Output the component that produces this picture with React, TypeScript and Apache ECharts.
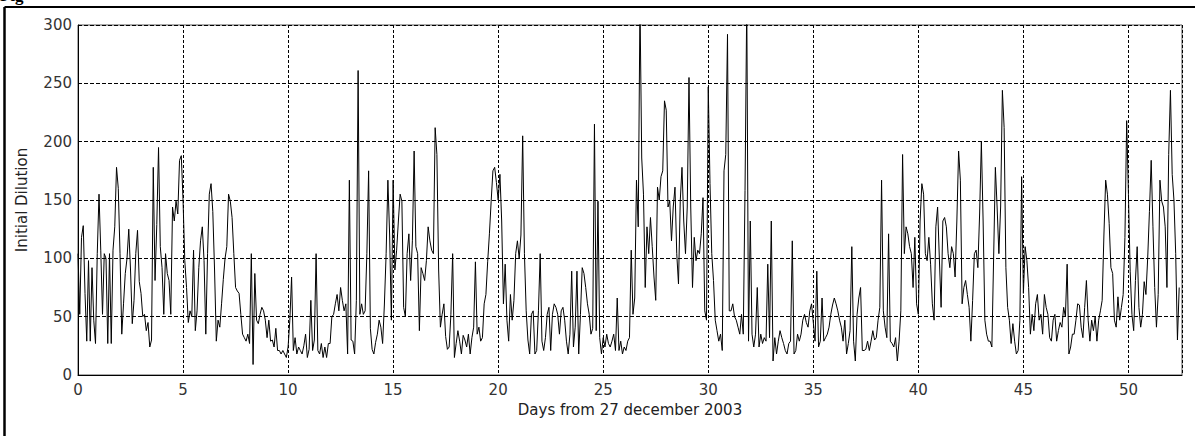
import React, { useEffect, useRef } from "react";
import * as echarts from "echarts";

// Sampling interval of the series (hours)
const STEP_HOURS = 2;

// X axis extent (days) and tick labels
const X_MAX = 52.55;
const xTickLabels = [0, 5, 10, 15, 20, 25, 30, 35, 40, 45, 50];
const yTickLabels = [0, 50, 100, 150, 200, 250, 300];

const xTitle = "Days from 27 december 2003";
const yTitle = "Initial Dilution";
const captionText = "Fig";

// Initial dilution, one row per day, 2-hourly samples
const dilution: number[] = [
  104, 52, 118, 128, 70, 29, 98, 29, 92, 47, 27, 104, // day 0
  155, 107, 52, 104, 100, 27, 104, 27, 107, 127, 178, 160, // 1
  104, 35, 61, 87, 100, 125, 90, 44, 64, 104, 124, 80, // 2
  70, 50, 52, 38, 45, 24, 30, 178, 81, 129, 195, 110, // 3
  92, 52, 104, 87, 81, 52, 144, 132, 149, 138, 184, 188, // 4
  150, 98, 75, 45, 55, 50, 107, 38, 55, 92, 115, 127, // 5
  98, 35, 104, 155, 164, 140, 90, 29, 47, 41, 61, 82, // 6
  100, 110, 155, 149, 135, 104, 75, 72, 70, 52, 35, 32, // 7
  29, 35, 27, 104, 9, 87, 47, 44, 52, 58, 55, 47, // 8
  32, 47, 29, 30, 24, 40, 21, 21, 18, 21, 18, 15, // 9
  24, 47, 84, 21, 32, 18, 24, 21, 18, 25, 35, 15, // 10
  22, 64, 21, 30, 104, 21, 18, 27, 15, 24, 15, 27, // 11
  27, 50, 52, 61, 69, 55, 75, 64, 55, 61, 18, 167, // 12
  30, 29, 18, 64, 261, 52, 61, 52, 55, 104, 175, 40, // 13
  22, 18, 28, 35, 47, 41, 27, 60, 104, 167, 120, 47, // 14
  167, 90, 107, 132, 155, 149, 58, 50, 104, 121, 81, 115, // 15
  192, 110, 104, 38, 92, 87, 81, 98, 127, 115, 107, 104, // 16
  212, 189, 90, 41, 52, 61, 33, 22, 24, 52, 104, 15, // 17
  27, 38, 29, 18, 34, 30, 24, 35, 18, 32, 41, 97, // 18
  35, 41, 29, 32, 61, 69, 97, 121, 149, 175, 178, 165, // 19
  150, 172, 132, 61, 95, 47, 29, 69, 47, 64, 104, 115, // 20
  100, 120, 205, 104, 55, 30, 18, 52, 55, 18, 21, 55, // 21
  104, 29, 21, 32, 52, 58, 21, 52, 61, 58, 52, 35, // 22
  55, 58, 47, 29, 18, 35, 89, 24, 41, 89, 18, 52, // 23
  92, 87, 75, 61, 52, 35, 40, 215, 38, 149, 32, 18, // 24
  32, 24, 35, 27, 24, 29, 35, 21, 66, 21, 29, 18, // 25
  24, 21, 29, 32, 107, 52, 66, 167, 127, 320, 186, 155, // 26
  75, 127, 104, 135, 110, 84, 64, 161, 150, 170, 175, 235, // 27
  227, 144, 149, 115, 144, 161, 104, 78, 149, 178, 132, 104, // 28
  144, 255, 144, 75, 118, 98, 107, 104, 121, 152, 55, 47, // 29
  247, 164, 104, 81, 47, 38, 29, 35, 21, 175, 189, 292, // 30
  55, 55, 61, 50, 47, 41, 35, 52, 35, 158, 320, 29, // 31
  132, 35, 24, 35, 75, 24, 35, 27, 32, 29, 95, 32, // 32
  132, 12, 32, 18, 29, 38, 32, 27, 21, 18, 27, 29, // 33
  115, 18, 21, 35, 29, 35, 47, 52, 45, 41, 55, 61, // 34
  45, 29, 89, 24, 29, 66, 29, 32, 35, 41, 52, 60, // 35
  66, 61, 55, 47, 41, 29, 47, 18, 27, 38, 110, 29, // 36
  12, 52, 66, 75, 21, 21, 22, 29, 21, 29, 38, 30, // 37
  32, 47, 58, 167, 55, 41, 32, 121, 29, 27, 24, 32, // 38
  12, 29, 55, 189, 104, 127, 121, 110, 104, 75, 118, 61, // 39
  52, 132, 164, 155, 104, 98, 118, 95, 61, 47, 127, 144, // 40
  100, 58, 132, 135, 127, 104, 92, 110, 104, 84, 132, 192, // 41
  167, 61, 75, 81, 69, 58, 29, 64, 104, 107, 92, 138, // 42
  200, 132, 47, 35, 29, 29, 24, 100, 178, 144, 104, 144, // 43
  244, 212, 92, 58, 47, 27, 44, 29, 18, 21, 47, 170, // 44
  70, 110, 98, 75, 35, 52, 38, 61, 69, 47, 52, 35, // 45
  69, 58, 52, 32, 29, 47, 52, 29, 38, 45, 41, 58, // 46
  50, 95, 18, 24, 35, 35, 47, 61, 60, 41, 32, 58, // 47
  81, 47, 29, 47, 38, 50, 29, 47, 55, 64, 120, 167, // 48
  155, 130, 92, 87, 47, 41, 67, 47, 58, 69, 118, 218, // 49
  155, 89, 52, 38, 81, 110, 58, 41, 52, 80, 69, 100, // 50
  140, 184, 127, 75, 41, 69, 167, 149, 144, 127, 75, 189, // 51
  244, 172, 150, 104, 30, 75, // 52
];

export default function App() {
  const ref = useRef<HTMLDivElement>(null);

  useEffect(() => {
    if (!ref.current) return;
    const chart = echarts.init(ref.current, null, { renderer: "svg" });
    const data = dilution.map((v, i) => [(i * STEP_HOURS) / 24, v]);
    const font = "DejaVu Sans";

    chart.setOption({
      animation: false,
      backgroundColor: "#ffffff",
      textStyle: { fontFamily: font },
      grid: {
        left: 78,
        right: 13,
        top: 25,
        bottom: 61,
        show: true,
        borderColor: "#555555",
        borderWidth: 1,
        backgroundColor: "transparent",
      },
      xAxis: {
        type: "value",
        min: 0,
        max: X_MAX,
        interval: 5,
        name: xTitle,
        nameLocation: "middle",
        nameGap: 27,
        nameTextStyle: { color: "#222", fontSize: 15, fontFamily: font },
        axisLine: { show: true, onZero: false, lineStyle: { color: "#000", width: 1 } },
        axisTick: { show: false },
        axisLabel: {
          color: "#333",
          fontSize: 15,
          margin: 7,
          fontFamily: font,
          formatter: (v: number) => (xTickLabels.includes(v) ? String(v) : ""),
        },
        splitLine: {
          show: true,
          lineStyle: { color: "#000", width: 1, type: [3, 2] },
        },
      },
      yAxis: {
        type: "value",
        min: 0,
        max: 300,
        interval: 50,
        name: yTitle,
        nameLocation: "middle",
        nameGap: 49,
        nameTextStyle: { color: "#222", fontSize: 15, fontFamily: font },
        axisLine: { show: true, lineStyle: { color: "#000", width: 1 } },
        axisTick: { show: false },
        axisLabel: {
          color: "#333",
          fontSize: 15,
          margin: 6,
          fontFamily: font,
          formatter: (v: number) => (yTickLabels.includes(v) ? String(v) : ""),
        },
        splitLine: {
          show: true,
          lineStyle: { color: "#000", width: 1, type: [4, 2] },
        },
      },
      series: [
        {
          type: "line",
          data,
          showSymbol: false,
          symbol: "none",
          clip: true,
          lineStyle: { color: "#000", width: 1 },
        },
      ],
      graphic: [
        {
          type: "line",
          shape: { x1: 4.5, y1: 7, x2: 4.5, y2: 436 },
          style: { stroke: "#000", lineWidth: 2.5 },
        },
        {
          type: "line",
          shape: { x1: 4.5, y1: 7, x2: 1195, y2: 7 },
          style: { stroke: "#000", lineWidth: 2 },
        },
        {
          type: "text",
          x: 0,
          y: 4,
          style: {
            text: captionText,
            font: "bold 17px 'Liberation Serif'",
            fill: "#000",
            verticalAlign: "bottom",
          },
        },
      ],
    });

    return () => chart.dispose();
  }, []);

  return (
    <div
      ref={ref}
      style={{ position: "fixed", left: 0, top: 0, width: 1195, height: 436 }}
    />
  );
}
